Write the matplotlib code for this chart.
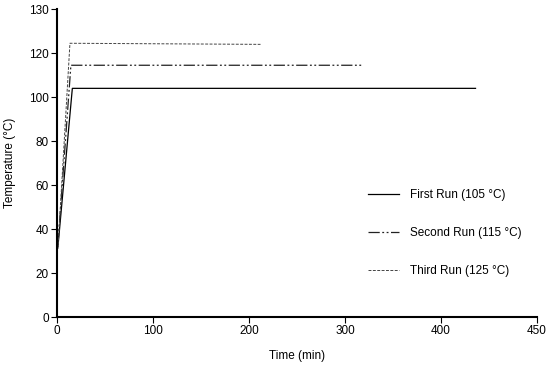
import matplotlib
matplotlib.use("Agg")
import matplotlib.pyplot as plt

plt.rcParams['font.family'] = ['Liberation Sans', 'DejaVu Sans']

# data
first_t = [1, 16, 436]
first_T = [32, 104, 104]
second_t = [1, 14.5, 317]
second_T = [33, 114.5, 114.5]
third_t = [1, 13.5, 212]
third_T = [31, 124.5, 124]

xticks = [0, 100, 200, 300, 400, 500]
xtick_labels = ['0', '100', '200', '300', '400', '450']
yticks = [0, 20, 40, 60, 80, 100, 120, 140]
ytick_labels = ['0', '20', '40', '60', '80', '100', '120', '130']

fig = plt.figure(figsize=(5.5, 3.67), dpi=100)
ax = fig.add_axes([0.1036, 0.136, 0.8727, 0.839])

ax.plot(first_t, first_T, color='black', linewidth=0.9, linestyle='solid',
        label='First Run (105 \u00b0C)')
ax.plot(second_t, second_T, color='#222222', linewidth=0.9,
        linestyle=(0, (9, 2, 1.5, 2, 1.5, 2)), label='Second Run (115 \u00b0C)')
ax.plot(third_t, third_T, color='#444444', linewidth=0.7,
        linestyle=(0, (3, 1.5)), label='Third Run (125 \u00b0C)')

ax.set_xlim(0, 500)
ax.set_ylim(0, 140)
ax.set_xticks(xticks)
ax.set_xticklabels(xtick_labels)
ax.set_yticks(yticks)
ax.set_yticklabels(ytick_labels)

for s in ['top', 'right']:
    ax.spines[s].set_visible(False)
for s in ['left', 'bottom']:
    ax.spines[s].set_linewidth(1.5)
ax.tick_params(direction='out', length=4, width=0.8, labelsize=8.5, pad=2)

ax.set_xlabel('Time (min)', fontsize=8.5, labelpad=9)
ax.set_ylabel('Temperature (\u00b0C)', fontsize=8.5, labelpad=9)

ax.legend(loc='center left', bbox_to_anchor=(0.625, 0.273), frameon=False,
          fontsize=8.5, labelspacing=2.2, handlelength=2.7, handletextpad=0.9)

fig.savefig('out.png', dpi=100)
plt.close(fig)
